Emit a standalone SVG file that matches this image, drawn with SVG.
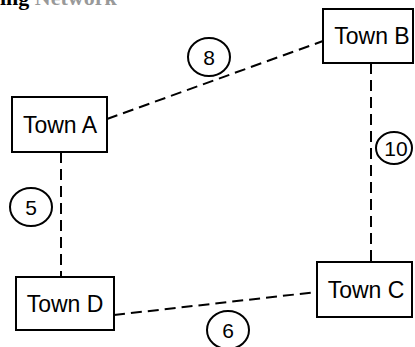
<svg xmlns="http://www.w3.org/2000/svg" width="415" height="347" viewBox="0 0 415 347">
<style>
.box{fill:#fff;stroke:#000;stroke-width:2}
.lbl{font-family:"Liberation Sans",Arial,sans-serif;font-size:23px;fill:#000;text-anchor:middle}
.edge{stroke:#000;stroke-width:2;stroke-dasharray:11 6;fill:none}
.wc{fill:#fff;stroke:#000;stroke-width:2}
.wt{font-family:"Liberation Sans",Arial,sans-serif;font-size:21px;fill:#000;text-anchor:middle}
</style>
<rect width="415" height="347" fill="#fff"/>
<text x="0" y="5" font-family="Liberation Serif,serif" font-weight="bold" font-size="22" fill="#000">ing <tspan fill="#999">Network</tspan></text>
<g id="connectors">
<line class="edge" x1="107" y1="119" x2="323" y2="41"/>
<line class="edge" x1="61" y1="152" x2="61" y2="277"/>
<line class="edge" x1="371" y1="63" x2="371" y2="262"/>
<line class="edge" x1="114" y1="315" x2="317" y2="292"/>
</g>
<g id="townA"><rect class="box" x="12" y="97" width="95" height="55"/><text class="lbl" x="60" y="133">Town A</text></g>
<g id="townB"><rect class="box" x="323" y="9" width="90" height="54"/><text class="lbl" x="372" y="44">Town B</text></g>
<g id="townC"><rect class="box" x="317" y="262" width="95" height="55"/><text class="lbl" x="366" y="298">Town C</text></g>
<g id="townD"><rect class="box" x="16" y="277" width="98" height="53"/><text class="lbl" x="65" y="312">Town D</text></g>
<g id="w8"><ellipse class="wc" cx="209" cy="57" rx="21" ry="19"/><text class="wt" x="209" y="65">8</text></g>
<g id="w5"><ellipse class="wc" cx="31" cy="207" rx="21" ry="19"/><text class="wt" x="31" y="215">5</text></g>
<g id="w10"><ellipse class="wc" cx="394" cy="148" rx="18" ry="16"/><text class="wt" x="396" y="156">10</text></g>
<g id="w6"><ellipse class="wc" cx="228" cy="330" rx="21" ry="19"/><text class="wt" x="228" y="338">6</text></g>
</svg>
